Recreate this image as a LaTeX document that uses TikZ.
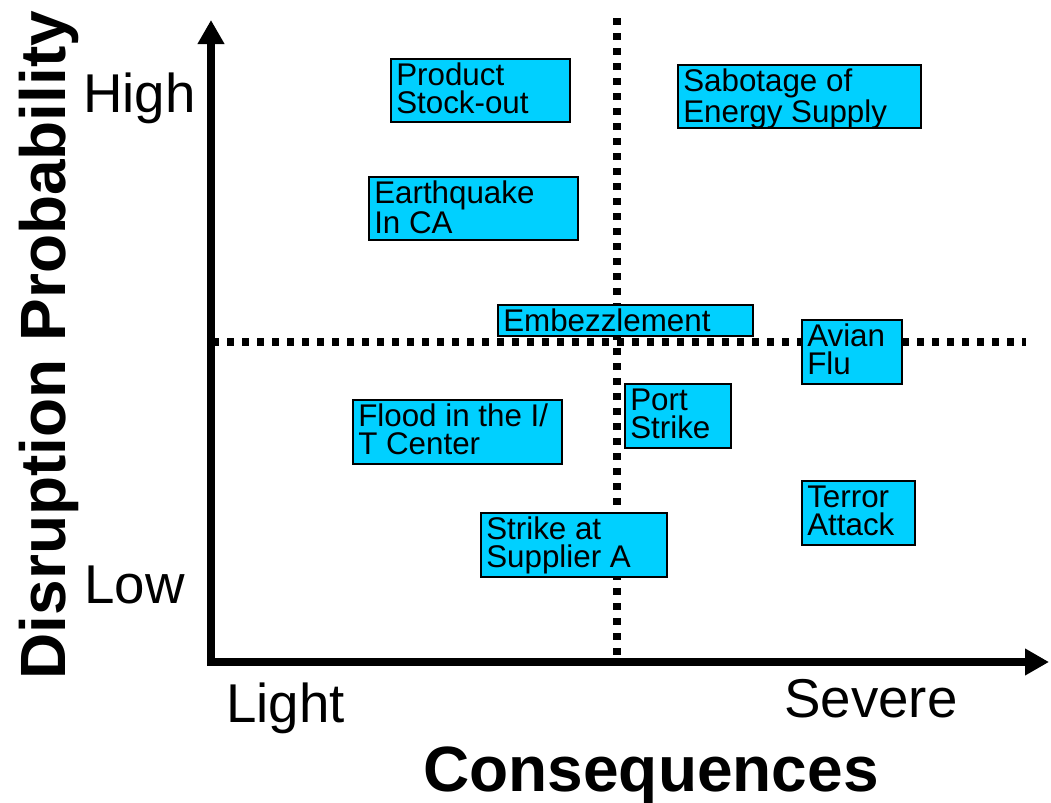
\documentclass[tikz,border=0pt]{standalone}
\usepackage{fontspec}
\setmainfont{Liberation Sans}
\usetikzlibrary{arrows.meta}
\definecolor{boxcyan}{RGB}{0,208,255}
\tikzset{
  qbox/.style={draw=black, line width=1.5pt, fill=boxcyan, inner sep=0pt},
  qtext/.style={inner sep=0pt, anchor=north west, align=left,
    font=\fontsize{23.5}{21}\selectfont},
  dotline/.style={line width=5.6pt, dash pattern=on 5.6pt off 5.65pt, line cap=butt},
  axisline/.style={line width=6pt, line join=miter,
    {Triangle[length=18pt,width=19pt]}-{Triangle[length=18pt,width=19pt]}},
  ticklabel/.style={inner sep=0pt, anchor=base west, font=\fontsize{41}{41}\selectfont},
  axistitle/.style={inner sep=0pt, anchor=base, font=\fontsize{48}{48}\selectfont\bfseries}
}
\newcommand\qboxnode[6]{%
  \pgfmathsetmacro\qw{(#4-#2)*0.75}%
  \pgfmathsetmacro\qh{(#5-#3)*0.75}%
  \node[qbox, minimum width=\qw pt, minimum height=\qh pt, anchor=north west] (#1) at (#2,#3) {};%
  \node[qtext] (#1-text) at ([shift={(6,4)}]#1.north west) {\rule{0pt}{17.5pt}#6};%
}
\begin{document}
\begin{tikzpicture}[x=0.75pt,y=-0.75pt]
\useasboundingbox (0,0) rectangle (1051,803);
% quadrant dividers
\coordinate (vtop) at (617,18);
\coordinate (vbot) at (617,660);
\coordinate (hleft) at (212,342);
\coordinate (hright) at (1026,342);
\draw[dotline] (vtop) -- (vbot);
\draw[dotline] (hleft) -- (hright);
% axes
\coordinate (ytip) at (211,20);
\coordinate (origin) at (211,662);
\coordinate (xtip) at (1049,662);
\draw[axisline] (ytip) -- (origin) -- (xtip);
% boxes
\qboxnode{stockout}{390}{58}{569}{121}{Product\\Stock-out}
\qboxnode{sabotage}{677}{64}{920}{127}{Sabotage of\\Energy Supply}
\qboxnode{quake}{368}{176}{577}{239}{Earthquake\\In CA}
\qboxnode{embezzle}{497}{304}{752}{335}{Embezzlement}
\qboxnode{avian}{801}{319}{901}{383}{Avian\\Flu}
\qboxnode{flood}{352}{399}{561}{463}{Flood in the I/\\T Center}
\qboxnode{port}{624}{383}{730}{447}{Port\\Strike}
\qboxnode{terror}{801}{480}{914}{544}{Terror\\Attack}
\qboxnode{supplier}{480}{512}{666}{576}{Strike at\\Supplier A}
% labels
\node[ticklabel] (high) at (83,112) {High};
\node[ticklabel] (low) at (84,603) {Low};
\node[ticklabel] (light) at (226,722) {Light};
\node[ticklabel] (severe) at (784,717) {Severe};
\node[axistitle] (xtitle) at (651,791) {Consequences};
\node[axistitle, rotate=90] (ytitle) at (65,345) {Disruption Probability};
\end{tikzpicture}
\end{document}
